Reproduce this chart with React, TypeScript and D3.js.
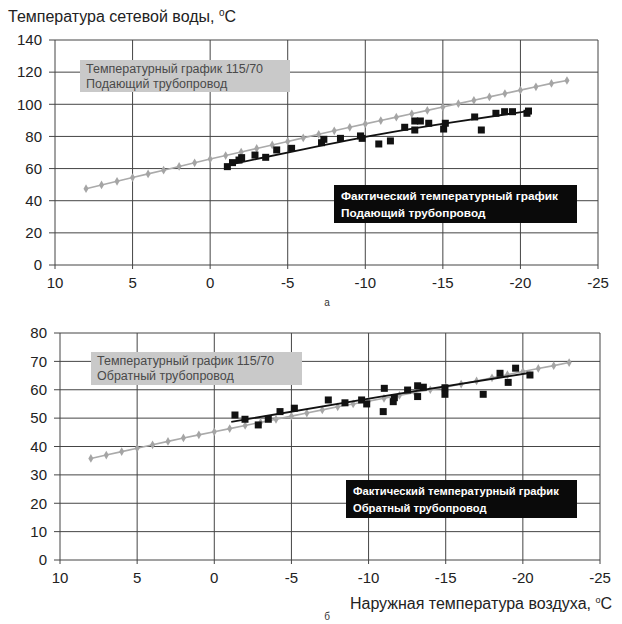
import React from 'react';
import * as d3 from 'd3';

// ---------- DATA ----------
const outdoorTemps = [8, 7, 6, 5, 4, 3, 2, 1, 0, -1, -2, -3, -4, -5, -6, -7, -8, -9, -10, -11, -12, -13, -14, -15, -16, -17, -18, -19, -20, -21, -22, -23];

const supplySchedule = [47.5, 49.8, 52.1, 54.4, 56.7, 59.0, 61.3, 63.6, 65.9, 68.1, 70.3, 72.5, 74.7, 76.9, 79.1, 81.3, 83.5, 85.7, 87.8, 89.9, 92.0, 94.1, 96.2, 98.3, 100.4, 102.5, 104.6, 106.7, 108.8, 110.9, 113.0, 114.8];

const returnSchedule = [35.8, 37.0, 38.2, 39.4, 40.6, 41.8, 43.0, 44.1, 45.2, 46.3, 47.4, 48.5, 49.6, 50.7, 51.8, 52.9, 54.0, 55.0, 56.0, 57.0, 58.0, 59.0, 60.0, 60.9, 62.0, 63.1, 64.2, 65.3, 66.4, 67.5, 68.5, 69.6];

const supplyActual: [number, number][] = [
  [-1.11, 61.2], [-1.44, 63.7], [-1.86, 65.3], [-2.03, 66.8], [-2.89, 68.4], [-3.58, 67.0],
  [-4.29, 71.6], [-5.25, 72.6], [-7.18, 76.1], [-7.33, 78.2], [-8.4, 78.8], [-9.69, 80.3],
  [-9.8, 78.8], [-10.87, 75.3], [-11.62, 77.2], [-12.54, 85.7], [-13.19, 84.0], [-13.19, 89.6],
  [-13.55, 89.6], [-14.09, 88.2], [-15.05, 84.6], [-15.16, 88.2], [-17.05, 92.1], [-17.48, 84.0],
  [-18.42, 94.4], [-18.98, 95.4], [-19.49, 95.4], [-20.42, 94.4], [-20.52, 95.8],
];

const supplyTrend: [number, number][] = [[-1.1, 62.2], [-6, 72.0], [-10.9, 81.3], [-15.7, 88.9], [-20.5, 95.8]];

const returnActual: [number, number][] = [
  [-1.34, 51.1], [-1.99, 49.6], [-2.85, 47.6], [-3.5, 49.6], [-4.26, 52.3], [-5.19, 53.5],
  [-7.39, 56.4], [-8.47, 55.4], [-9.55, 56.4], [-9.88, 55.0], [-11.02, 60.5], [-10.95, 52.3],
  [-11.6, 55.8], [-11.67, 57.2], [-12.53, 59.9], [-13.18, 61.4], [-13.18, 57.6], [-13.55, 60.9],
  [-14.95, 60.7], [-14.95, 58.4], [-17.43, 58.4], [-18.52, 65.8], [-19.05, 62.6], [-19.53, 67.6],
  [-20.46, 65.2],
];

const returnTrend: [number, number][] = [[-1.1, 48.7], [-10.6, 57.4], [-20.5, 66.0]];

const xTickValues = [10, 5, 0, -5, -10, -15, -20, -25];
const topYTicks = [0, 20, 40, 60, 80, 100, 120, 140];
const bottomYTicks = [0, 10, 20, 30, 40, 50, 60, 70, 80];

const titleText = 'Температура сетевой воды, ';
const xAxisTitle = 'Наружная температура воздуха, ';
const scheduleLine1 = 'Температурный график  115/70';
const supplyLabel = 'Подающий трубопровод';
const returnLabel = 'Обратный трубопровод';
const actualLine1 = 'Фактический температурный график';
const actualSupplyLabel = 'Подающий  трубопровод';
const actualReturnLabel = 'Обратный трубопровод';

const FONT = '"Liberation Sans", Arial, sans-serif';

type PanelProps = {
  left: number; right: number; top: number; bottom: number;
  yMax: number; yTicks: number[];
  schedule: number[]; actual: [number, number][]; trend: [number, number][];
  grayBox: { x: number; y: number; w: number; h: number; lines: string[] };
  blackBox: { x: number; y: number; w: number; h: number; lines: string[]; fs: number };
  yLabelX: number;
};

function Panel(p: PanelProps) {
  const x = d3.scaleLinear().domain([10, -25]).range([p.left, p.right]);
  const y = d3.scaleLinear().domain([0, p.yMax]).range([p.bottom, p.top]);
  const schedPts: [number, number][] = outdoorTemps.map((t, i) => [t, p.schedule[i]]);
  const line = d3.line<[number, number]>().x(d => x(d[0])).y(d => y(d[1]));
  const trendLine = d3.line<[number, number]>().x(d => x(d[0])).y(d => y(d[1])).curve(d3.curveNatural);
  const grid = '#454545';
  return (
    <g>
      {p.yTicks.map(t => (
        <g key={'y' + t}>
          <line x1={p.left - 6} x2={p.right} y1={y(t)} y2={y(t)} stroke={grid} strokeWidth={1} />
          <text x={p.yLabelX} y={y(t)} dy="0.35em" textAnchor="end" fontSize={15} fill="#222" fontFamily={FONT}>{t}</text>
        </g>
      ))}
      {xTickValues.map(t => (
        <g key={'x' + t}>
          <line x1={x(t)} x2={x(t)} y1={p.top} y2={p.bottom + 4} stroke={grid} strokeWidth={1} />
          <text x={x(t)} y={p.bottom + 23} textAnchor="middle" fontSize={15} fill="#222" fontFamily={FONT}>{t}</text>
        </g>
      ))}
      <rect x={p.grayBox.x} y={p.grayBox.y} width={p.grayBox.w} height={p.grayBox.h} fill="#c9c9c9" />
      {p.grayBox.lines.map((s, i) => (
        <text key={'g' + i} x={p.grayBox.x + 6} y={p.grayBox.y + 13 + i * 15} fontSize={12.5} fill="#4a4a4a" fontFamily={FONT}>{s}</text>
      ))}
      <path d={line(schedPts) || ''} fill="none" stroke="#aaaaaa" strokeWidth={1.6} />
      {schedPts.map((d, i) => (
        <path key={'m' + i} d={d3.symbol(d3.symbolDiamond, 22)() || ''} transform={`translate(${x(d[0])},${y(d[1])})`} fill="#a5a5a5" />
      ))}
      <path d={trendLine(p.trend) || ''} fill="none" stroke="#111" strokeWidth={1.8} />
      {p.actual.map((d, i) => (
        <rect key={'a' + i} x={x(d[0]) - 3.5} y={y(d[1]) - 3.5} width={7} height={7} fill="#111" />
      ))}
      <rect x={p.blackBox.x} y={p.blackBox.y} width={p.blackBox.w} height={p.blackBox.h} fill="#0a0a0a" />
      {p.blackBox.lines.map((s, i) => (
        <text key={'b' + i} x={p.blackBox.x + 7} y={p.blackBox.y + 15 + i * 17} fontSize={p.blackBox.fs} fontWeight="bold" fill="#fff" fontFamily={FONT}>{s}</text>
      ))}
    </g>
  );
}

export default function App() {
  return (
    <svg width={622} height={624} style={{ position: 'absolute', left: 0, top: 0, background: '#fff' }}>
      <rect width={622} height={624} fill="#fff" />
      <text x={8} y={22} fontSize={16} fill="#222" fontFamily={FONT}>
        {titleText}
        <tspan fontSize={10} dy={-6}>o</tspan>
        <tspan dy={6}>C</tspan>
      </text>
      <Panel
        left={55} right={598} top={40} bottom={265} yMax={140} yTicks={topYTicks}
        schedule={supplySchedule} actual={supplyActual} trend={supplyTrend} yLabelX={42}
        grayBox={{ x: 80, y: 60, w: 210, h: 32, lines: [scheduleLine1, supplyLabel] }}
        blackBox={{ x: 334, y: 185, w: 243, h: 38, lines: [actualLine1, actualSupplyLabel], fs: 11.8 }}
      />
      <text x={327} y={306} fontSize={10} fill="#333" fontFamily={FONT} textAnchor="middle">а</text>
      <Panel
        left={60} right={600} top={333} bottom={560} yMax={80} yTicks={bottomYTicks}
        schedule={returnSchedule} actual={returnActual} trend={returnTrend} yLabelX={47}
        grayBox={{ x: 91, y: 352, w: 211, h: 33, lines: [scheduleLine1, returnLabel] }}
        blackBox={{ x: 346, y: 480, w: 231, h: 38, lines: [actualLine1, actualReturnLabel], fs: 11.2 }}
      />
      <text x={612} y={609} fontSize={16} fill="#222" fontFamily={FONT} textAnchor="end">
        {xAxisTitle}
        <tspan fontSize={9} dy={-6}>o</tspan>
        <tspan dy={6}>C</tspan>
      </text>
      <text x={327} y={620} fontSize={10} fill="#333" fontFamily={FONT} textAnchor="middle">б</text>
    </svg>
  );
}
